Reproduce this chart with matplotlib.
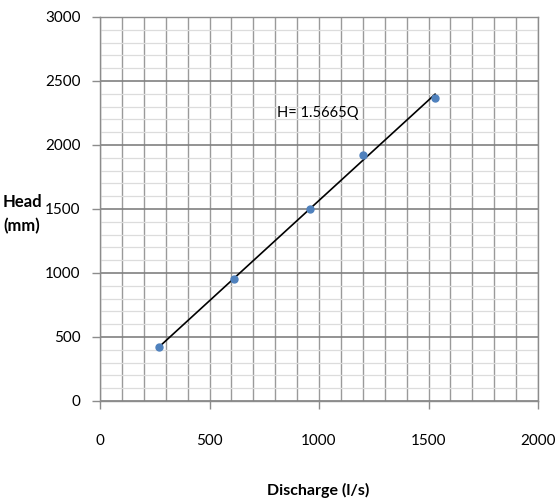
import numpy as np
import matplotlib
matplotlib.use("Agg")
import matplotlib.pyplot as plt
from matplotlib.ticker import MultipleLocator

# measured points
discharge = [270, 610, 960, 1200, 1530]
head = [420, 950, 1500, 1920, 2370]

# fitted line H = k*Q
k = 1.5665
eq_label = "H= 1.5665Q"

plt.rcParams['font.family'] = ['Lato', 'DejaVu Sans']

fig = plt.figure(figsize=(5.55, 5.04), dpi=100)
ax = fig.add_axes([100/555, 1 - 401/504, 438/555, 384/504])

q_fit = np.array([discharge[0], discharge[-1]])
ax.plot(q_fit, k * q_fit, color="black", lw=1.2, zorder=3)
ax.plot(discharge, head, "o", color="#4F81BD", ms=5, zorder=4)
ax.text(810, 2250, eq_label, fontsize=10.5, va="center", ha="left")

ax.set_xlim(0, 2000)
ax.set_ylim(0, 3000)
ax.xaxis.set_major_locator(MultipleLocator(500))
ax.xaxis.set_minor_locator(MultipleLocator(100))
ax.yaxis.set_major_locator(MultipleLocator(500))
ax.yaxis.set_minor_locator(MultipleLocator(100))

ax.grid(which="major", axis="y", color="#808080", lw=1.2)
ax.grid(which="minor", axis="y", color="#dcdcdc", lw=0.9)
ax.grid(which="both", axis="x", color="#9a9a9a", lw=1.0)
ax.set_axisbelow(True)

for s in ax.spines.values():
    s.set_color("#8c8c8c")
    s.set_linewidth(1.0)

ax.tick_params(which="major", length=6, width=1, color="#8c8c8c", labelsize=11)
ax.tick_params(axis="x", which="major", pad=18)
ax.tick_params(axis="y", which="major", pad=8)
ax.tick_params(which="minor", length=0)

fig.text(22/555, 1 - 214/504, "Head\n(mm)", fontsize=12, fontweight="bold",
         ha="center", va="center", linespacing=1.6)
fig.text(318/555, 1 - 490/504, "Discharge (l/s)", fontsize=11.5, fontweight="bold",
         ha="center", va="center")

fig.savefig("out.png", dpi=100)
